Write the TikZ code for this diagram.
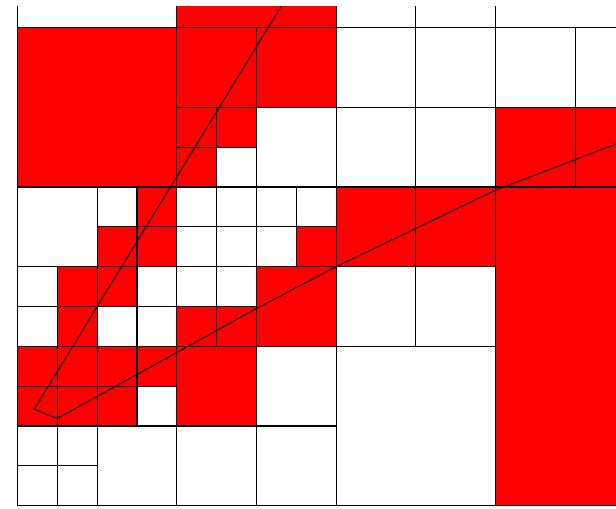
\documentclass[tikz,border=0pt]{standalone}
\begin{document}
\begin{tikzpicture}[x=1cm,y=1cm,
  gridline/.style={draw=black, line width=0.85pt},
  outline/.style={draw=black, line width=0.7pt, line join=miter}]
\def\whitecells{0/12/4, 8/12/2, 10/12/2, 12/12/4,
  6/8/2, 5/8/1,
  8/10/2, 10/10/2, 8/8/2, 10/8/2, 12/10/2, 14/10/2,
  0/6/2, 2/7/1, 0/5/1, 0/4/1, 3/5/1, 2/4/1, 3/4/1,
  4/7/1, 5/7/1, 6/7/1, 7/7/1, 4/6/1, 5/6/1, 6/6/1, 4/5/1, 5/5/1,
  8/4/2, 10/4/2,
  3/2/1, 6/2/2, 0/1/1, 1/1/1, 0/0/1, 1/0/1, 2/0/2, 4/0/2, 6/0/2, 8/0/4}
\def\redcells{4/12/4,
  0/8/4, 4/10/2, 6/10/2, 4/9/1, 5/9/1, 4/8/1,
  12/8/2, 14/8/2,
  3/7/1, 2/6/1, 3/6/1, 1/5/1, 1/4/1, 2/5/1,
  7/6/1, 4/4/1, 5/4/1, 6/4/2,
  8/6/2, 10/6/2,
  12/0/8,
  0/3/1, 1/3/1, 2/3/1, 3/3/1, 0/2/1, 1/2/1, 2/2/1, 4/2/2}
\useasboundingbox (-0.4394,-0.0577) rectangle (15.0264,12.6965);
\begin{scope}
\clip (-0.1,-0.1) rectangle (15.1,12.528);
% fills
\foreach \x/\y/\s in \redcells
  \fill[red] (\x,\y) rectangle ++(\s,\s);
% borders
\foreach \x/\y/\s in \whitecells
  \draw[gridline] (\x,\y) rectangle ++(\s,\s);
\foreach \x/\y/\s in \redcells
  \draw[gridline] (\x,\y) rectangle ++(\s,\s);
% outline curve
\coordinate (top) at (6.906,13);
\coordinate (pA) at (0.42,2.42);
\coordinate (pB) at (1.0,2.19);
\coordinate (p1) at (6,4.95);
\coordinate (p2) at (8,6);
\coordinate (p3) at (12,7.92);
\coordinate (pE) at (15.6,9.3);
\draw[outline] (top) -- (pA) -- (pB) -- (p1) -- (p2) -- (p3) -- (pE);
\end{scope}
\end{tikzpicture}
\end{document}
